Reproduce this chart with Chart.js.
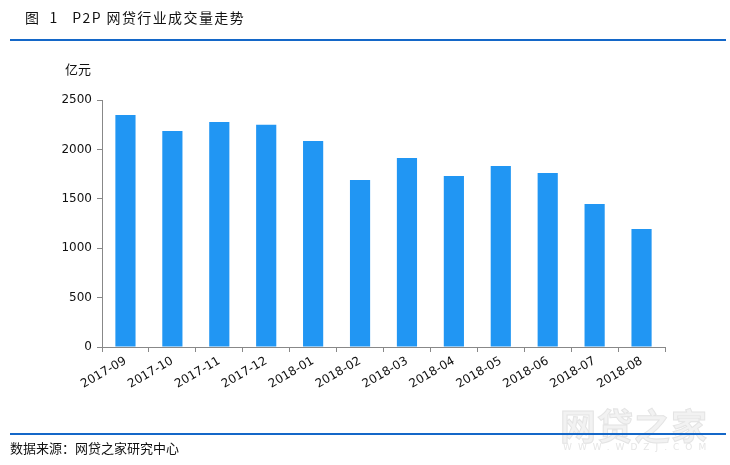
<!DOCTYPE html>
<html>
<head>
<meta charset="utf-8">
<script src="https://cdn.jsdelivr.net/npm/chart.js@4/dist/chart.umd.min.js"></script>
<style>
  body { margin: 0; background: #fff; font-family: "Noto Sans CJK SC", "DejaVu Sans", sans-serif; }
  #wrap { position: relative; width: 730px; height: 465px; overflow: hidden; }
  #title { position: absolute; left: 25px; top: 7px; font-size: 14px; color: #111; letter-spacing: 1.4px; white-space: pre; }
  .bar { position: absolute; left: 10px; width: 716px; height: 2px; background: #1467c8; }
  #unit { position: absolute; left: 65px; top: 59px; font-size: 13px; color: #111; }
  #source { position: absolute; left: 10px; top: 438px; font-size: 13px; color: #111; }
  #wm { position: absolute; left: 560px; top: 398px; font-size: 36px; font-weight: bold; color: #f2f2f2;
        -webkit-text-stroke: 1px #e4e4e4; letter-spacing: 1px; }
  #wm2 { position: absolute; left: 563px; top: 442px; font-size: 9px; color: #e6e6e6; letter-spacing: 6px; font-family: "DejaVu Sans", sans-serif; }
  canvas { position: absolute; left: 0; top: 0; }
</style>
</head>
<body>
<div id="wrap">
  <canvas id="barChart" width="730" height="465"></canvas>
  <div id="wm">网贷之家</div>
  <div id="wm2">WWW.WDZJ.COM</div>
  <div id="title">图  1   P2P 网贷行业成交量走势</div>
  <div class="bar" style="top:39px"></div>
  <div id="unit">亿元</div>
  <div class="bar" style="top:433px"></div>
  <div id="source">数据来源：网贷之家研究中心</div>
</div>
<script>
// Monate und Volumen (Mrd. Yuan)
let months = ['2017-09', '2017-10', '2017-11', '2017-12', '2018-01', '2018-02',
  '2018-03', '2018-04', '2018-05', '2018-06', '2018-07', '2018-08'];
let volume = [2348, 2186, 2277, 2250, 2085, 1690, 1913, 1731, 1832, 1761, 1447, 1194];
let yTicks = [0, 500, 1000, 1500, 2000, 2500];

let axisColor = '#888888';
let fontFamily = '"DejaVu Sans", sans-serif';

let config = {
  type: 'bar',
  data: {
    labels: months,
    datasets: [{ data: volume, backgroundColor: '#2196F3', borderWidth: 0, barPercentage: 0.43, categoryPercentage: 1 }]
  },
  options: {
    responsive: false,
    animation: false,
    layout: { padding: { top: 100, right: 65, left: 0, bottom: 0 } },
    plugins: { legend: { display: false }, tooltip: { enabled: false } },
    scales: {
      x: {
        afterFit: s => { s.height = 118; },
        border: { color: axisColor, width: 1 },
        grid: { display: true, drawOnChartArea: false, drawTicks: true, tickLength: 5, color: axisColor, offset: true },
        ticks: { color: '#111', font: { family: fontFamily, size: 12 }, minRotation: 30, maxRotation: 30, padding: 2, autoSkip: false }
      },
      y: {
        min: 0, max: 2500,
        afterFit: s => { s.width = 102; },
        afterBuildTicks: s => { s.ticks = yTicks.map(v => ({ value: v })); },
        border: { color: axisColor, width: 1 },
        grid: { display: true, drawOnChartArea: false, drawTicks: true, tickLength: 5, color: axisColor },
        ticks: { color: '#111', font: { family: fontFamily, size: 12 }, padding: 5, callback: v => String(v) }
      }
    }
  }
};

let ctx = document.getElementById('barChart').getContext('2d');
let barChart = new Chart(ctx, config);
</script>
</body>
</html>
